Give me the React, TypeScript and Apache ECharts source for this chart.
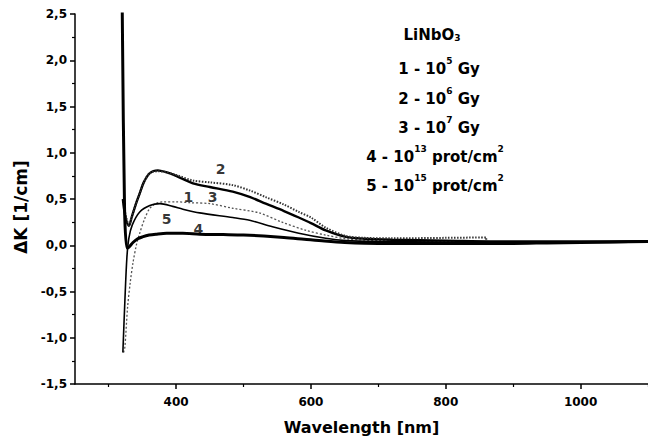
import React, { useEffect, useRef } from 'react';
import * as echarts from 'echarts';

// ---- data (wavelength in nm, ΔK in 1/cm) ----
const xLabelValues = [400, 600, 800, 1000];
const xMinorTickValues = [300, 500, 700, 900, 1100];

// curve 1 (middle, dotted)
const wl1 = [322, 324, 328, 332, 336, 341, 346, 353, 361, 370, 380, 400, 420, 450, 484, 523, 557, 593, 622, 652, 700, 800, 900, 1000, 1100];
const dk1 = [-1.16, -1.1, -0.67, -0.4, -0.19, 0.0, 0.13, 0.28, 0.4, 0.45, 0.47, 0.47, 0.46, 0.45, 0.4, 0.35, 0.25, 0.16, 0.11, 0.07, 0.05, 0.04, 0.035, 0.03, 0.035];

// curve 2 (upper, solid thick)
const wl2 = [321, 323, 326, 330, 334, 340, 346, 352, 361, 373, 385, 400, 425, 450, 484, 510, 533, 560, 582, 600, 622, 652, 680, 720, 800, 900, 1000, 1100];
const dk2 = [0.5, 0.38, 0.27, 0.21, 0.3, 0.44, 0.56, 0.68, 0.78, 0.81, 0.79, 0.75, 0.67, 0.63, 0.58, 0.52, 0.45, 0.37, 0.3, 0.24, 0.16, 0.09, 0.07, 0.06, 0.05, 0.04, 0.04, 0.045];

// curve 3 (upper, dotted)
const wl3 = [322, 326, 330, 334, 340, 346, 352, 361, 373, 385, 400, 425, 450, 484, 510, 533, 560, 582, 600, 622, 652, 680, 720, 800, 860, 860];
const dk3 = [0.45, 0.3, 0.22, 0.3, 0.44, 0.56, 0.68, 0.78, 0.8, 0.79, 0.76, 0.7, 0.68, 0.65, 0.59, 0.52, 0.44, 0.36, 0.3, 0.19, 0.1, 0.08, 0.075, 0.08, 0.085, 0.05];

// curve 4 (bottom, thick)
const wl4 = [320, 323.5, 327, 330, 336, 343, 350, 360, 370, 386, 410, 435, 470, 500, 530, 560, 590, 620, 650, 700, 750, 800, 860, 900, 950, 1000, 1050, 1100];
const dk4 = [2.6, 0.4, -0.03, -0.02, 0.03, 0.07, 0.09, 0.11, 0.12, 0.13, 0.13, 0.12, 0.115, 0.11, 0.1, 0.085, 0.065, 0.045, 0.03, 0.02, 0.02, 0.02, 0.02, 0.02, 0.025, 0.03, 0.035, 0.04];

// curve 5 (middle, solid)
const wl5 = [321, 324, 327, 330, 335, 346, 361, 376, 395, 410, 435, 484, 509, 543, 582, 622, 652, 700, 800, 900, 1000, 1100];
const dk5 = [-1.16, -0.6, -0.13, 0.08, 0.22, 0.36, 0.43, 0.45, 0.42, 0.39, 0.35, 0.3, 0.27, 0.2, 0.13, 0.075, 0.05, 0.04, 0.035, 0.03, 0.03, 0.035];

// curve number labels: [text, wavelength, ΔK]
const curveLabels: [string, number, number][] = [
  ['2', 466, 0.82],
  ['1', 418, 0.52],
  ['3', 454, 0.52],
  ['5', 386, 0.28],
  ['4', 433, 0.18],
];

const legendTitle = 'LiNbO';
const legendLines: [string, string, string, string][] = [
  ['1 - 10', '5', ' Gy', ''],
  ['2 - 10', '6', ' Gy', ''],
  ['3 - 10', '7', ' Gy', ''],
  ['4 - 10', '13', ' prot/cm', '2'],
  ['5 - 10', '15', ' prot/cm', '2'],
];

const FONT = 'DejaVu Sans';

function zip(xs: number[], ys: number[]) {
  return xs.map((x, i) => [x, ys[i]]);
}

export default function App() {
  const ref = useRef<HTMLDivElement>(null);
  useEffect(() => {
    const chart = echarts.init(ref.current!, null, { renderer: 'svg' });
    const mainStyle = { fontFamily: FONT, fontWeight: 'bold', fontSize: 15, lineHeight: 20, color: '#000', verticalAlign: 'bottom' };
    const supStyle = { fontFamily: FONT, fontWeight: 'bold', fontSize: 9, lineHeight: 10, color: '#000', verticalAlign: 'top' };
    const subStyle = { fontFamily: FONT, fontWeight: 'bold', fontSize: 9, lineHeight: 10, color: '#000', verticalAlign: 'bottom' };
    const legendX = [439, 439, 439, 435, 435];
    const legendY = [66, 96, 125, 154, 183];
    const graphics: any[] = [
      {
        type: 'text',
        x: 432,
        y: 32,
        style: {
          text: `{m|${legendTitle}}{b|3}`,
          align: 'center',
          verticalAlign: 'middle',
          rich: { m: mainStyle, b: subStyle },
        },
      },
      ...legendLines.map((l, i) => ({
        type: 'text',
        x: legendX[i],
        y: legendY[i],
        style: {
          text: `{m|${l[0]}}{s|${l[1]}}{m|${l[2]}}` + (l[3] ? `{s|${l[3]}}` : ''),
          align: 'center',
          verticalAlign: 'middle',
          rich: { m: mainStyle, s: supStyle },
        },
      })),
    ];

    const lineSeries = (name: string, data: number[][], width: number, color: string, type: any) => ({
      name,
      type: 'line',
      data,
      showSymbol: false,
      symbol: 'none',
      smooth: 0.3,
      clip: true,
      lineStyle: { width, color, type },
      z: 3,
    });

    const labelSeries = {
      type: 'scatter',
      data: curveLabels.map((c) => ({ value: [c[1], c[2]], name: c[0] })),
      symbolSize: 1,
      itemStyle: { color: 'rgba(0,0,0,0)' },
      label: {
        show: true,
        position: 'inside',
        formatter: (p: any) => p.name,
        fontFamily: FONT,
        fontWeight: 'bold',
        fontSize: 14,
        color: '#000',
        textBorderWidth: 0,
      },
      z: 5,
    };

    chart.setOption({
      animation: false,
      backgroundColor: '#fff',
      grid: { left: 75, top: 14, width: 575, height: 370 },
      xAxis: [
        {
          type: 'value',
          min: 250,
          max: 1100,
          name: 'Wavelength [nm]',
          nameLocation: 'middle',
          nameGap: 35,
          nameTextStyle: { fontFamily: FONT, fontWeight: 'bold', fontSize: 16, color: '#000' },
          axisLine: { show: true, onZero: false, lineStyle: { color: '#000', width: 1.5 } },
          axisTick: { show: true, customValues: xLabelValues, length: 5, lineStyle: { color: '#000', width: 1.5 } },
          axisLabel: {
            show: true,
            customValues: xLabelValues,
            margin: 12,
            fontFamily: FONT,
            fontWeight: 'bold',
            fontSize: 12,
            color: '#000',
            formatter: (v: number) => String(v),
          },
          splitLine: { show: false },
        },
        {
          type: 'value',
          min: 250,
          max: 1100,
          position: 'bottom',
          axisLine: { show: false, onZero: false },
          axisTick: { show: true, customValues: xMinorTickValues, length: 3, lineStyle: { color: '#000', width: 1.2 } },
          axisLabel: { show: false },
          splitLine: { show: false },
        },
      ],
      yAxis: {
        type: 'value',
        min: -1.5,
        max: 2.5,
        interval: 0.5,
        name: 'ΔK [1/cm]',
        nameLocation: 'middle',
        nameGap: 40,
        nameTextStyle: { fontFamily: FONT, fontWeight: 'bold', fontSize: 17, color: '#000', padding: [0, 16, 0, 0] },
        axisLine: { show: true, onZero: false, lineStyle: { color: '#000', width: 1.5 } },
        axisTick: { show: true, length: 5, lineStyle: { color: '#000', width: 1.5 } },
        minorTick: { show: true, splitNumber: 2, length: 3, lineStyle: { color: '#000', width: 1.2 } },
        axisLabel: {
          margin: 8,
          fontFamily: FONT,
          fontWeight: 'bold',
          fontSize: 12,
          color: '#000',
          formatter: (v: number) => v.toFixed(1).replace('.', ','),
        },
        splitLine: { show: false },
      },
      series: [
        lineSeries('1', zip(wl1, dk1), 1.3, '#555', [2, 2]),
        lineSeries('2', zip(wl2, dk2), 2.4, '#000', 'solid'),
        lineSeries('3', zip(wl3, dk3), 2, '#333', [1.5, 1.5]),
        lineSeries('4', zip(wl4, dk4), 3, '#000', 'solid'),
        lineSeries('5', zip(wl5, dk5), 1.6, '#000', 'solid'),
        labelSeries,
      ],
      graphic: graphics,
    });
    return () => chart.dispose();
  }, []);
  return <div ref={ref} style={{ position: 'fixed', left: 0, top: 0, width: 648, height: 444, background: '#fff' }} />;
}
